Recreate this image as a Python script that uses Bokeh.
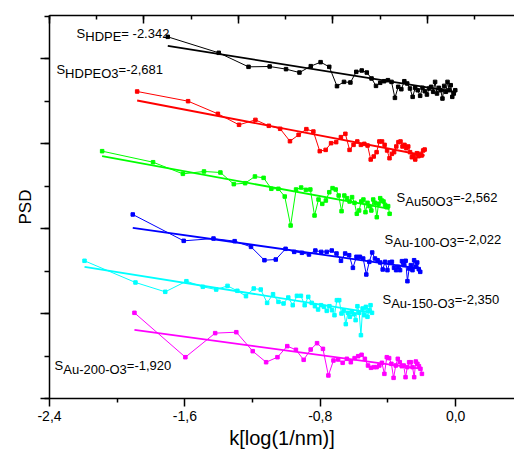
import numpy as np
from bokeh.plotting import figure
from bokeh.models import (Range1d, LinearAxis, SingleIntervalTicker, FixedTicker,
                          CustomJSTickFormatter, Label, ColumnDataSource)
from bokeh.embed import file_html
from bokeh.resources import INLINE

# ---------------- data ----------------
freq_index = list(range(1, 51))          # spatial-frequency index n ; k = k_start + log10(n)
series_colors = ["#000000", "#FF0000", "#00FF00", "#0000FF", "#00FFFF", "#FF00FF"]
k_start = [-1.701, -1.882, -2.089, -1.908, -2.193, -1.898]

psd_hdpe = [4.255, 4.067, 3.902, 3.906, 3.875, 3.835, 3.910, 3.957, 3.902, 3.675,
            3.725, 3.718, 3.843, 3.859, 3.835, 3.765, 3.678, 3.714, 3.733, 3.745,
            3.725, 3.537, 3.667, 3.639, 3.733, 3.706, 3.647, 3.549, 3.655, 3.627,
            3.561, 3.655, 3.616, 3.576, 3.647, 3.667, 3.608, 3.725, 3.588, 3.655,
            3.627, 3.529, 3.678, 3.608, 3.725, 3.627, 3.686, 3.549, 3.588, 3.627]
psd_hdpeo3 = [3.612, 3.498, 3.349, 3.220, 3.278, 3.208, 3.173, 3.027, 3.102, 3.169,
              3.141, 2.910, 2.925, 3.004, 3.016, 3.075, 3.114, 2.925, 2.984, 3.024,
              2.984, 2.996, 2.976, 2.812, 2.847, 2.898, 3.024, 3.024, 2.984, 2.918,
              2.827, 2.878, 2.898, 2.965, 3.016, 3.024, 2.965, 2.984, 2.945, 2.965,
              2.898, 2.839, 2.859, 2.812, 2.886, 2.851, 2.878, 2.859, 2.918, 2.929]
psd_au50 = [2.910, 2.780, 2.643, 2.671, 2.659, 2.522, 2.533, 2.612, 2.596, 2.467,
            2.467, 2.376, 2.035, 2.459, 2.482, 2.455, 2.459, 2.153, 2.341, 2.290,
            2.329, 2.427, 2.475, 2.459, 2.388, 2.204, 2.388, 2.357, 2.318, 2.369,
            2.302, 2.173, 2.212, 2.318, 2.341, 2.192, 2.302, 2.263, 2.212, 2.341,
            2.302, 2.133, 2.290, 2.357, 2.329, 2.318, 2.278, 2.251, 2.263, 2.173]
psd_au100 = [2.165, 1.855, 1.882, 1.851, 1.784, 1.627, 1.635, 1.761, 1.725, 1.714,
             1.694, 1.741, 1.725, 1.725, 1.741, 1.706, 1.620, 1.706, 1.686, 1.537,
             1.667, 1.667, 1.647, 1.459, 1.608, 1.718, 1.647, 1.627, 1.600, 1.518,
             1.608, 1.510, 1.600, 1.608, 1.537, 1.510, 1.549, 1.510, 1.616, 1.569,
             1.620, 1.380, 1.529, 1.569, 1.510, 1.627, 1.549, 1.600, 1.522, 1.490]
psd_au150 = [1.620, 1.365, 1.255, 1.380, 1.314, 1.282, 1.325, 1.267, 1.204, 1.294,
             1.282, 1.125, 1.227, 1.137, 1.118, 1.188, 1.098, 1.208, 1.208, 1.098,
             1.196, 1.125, 1.086, 1.047, 1.098, 1.078, 1.031, 1.086, 1.039, 0.980,
             1.157, 1.157, 1.000, 1.031, 0.875, 1.008, 0.961, 1.020, 0.992, 0.922,
             1.086, 1.008, 0.745, 1.059, 0.980, 1.078, 0.961, 1.039, 1.098, 1.008]
psd_au200 = [1.008, 0.486, 0.769, 0.780, 0.557, 0.427, 0.486, 0.616, 0.573, 0.455,
             0.576, 0.651, 0.584, 0.271, 0.447, 0.459, 0.420, 0.467, 0.427, 0.475,
             0.498, 0.514, 0.467, 0.388, 0.361, 0.369, 0.369, 0.388, 0.420, 0.290,
             0.486, 0.475, 0.408, 0.243, 0.388, 0.467, 0.427, 0.380, 0.388, 0.251,
             0.369, 0.427, 0.427, 0.369, 0.251, 0.435, 0.408, 0.380, 0.349, 0.290]
psd_series = [psd_hdpe, psd_hdpeo3, psd_au50, psd_au100, psd_au150, psd_au200]

# linear fits: value at first and last k of each series
fit_start = [4.149, 3.506, 2.851, 2.008, 1.549, 0.808]
fit_end = [3.608, 2.859, 2.231, 1.529, 1.008, 0.349]

# annotation texts: (main, subscript, value)
slope_texts = [("S", "HDPE", "= -2.342"),
               ("S", "HDPEO3", "=-2,681"),
               ("S", "Au50O3", "=-2,562"),
               ("S", "Au-100-O3", "=-2,022"),
               ("S", "Au-150-O3", "=-2,350"),
               ("S", "Au-200-O3", "=-1,920")]
slope_pos = [(-2.240, 4.298), (-2.359, 3.867), (-0.349, 2.361),
             (-0.420, 1.871), (-0.432, 1.161), (-2.370, 0.388)]

x_ticks = [-2.4, -1.6, -0.8, 0.0]
x_minor = [-2.0, -1.2, -0.4, 0.4]

# ---------------- figure ----------------
FONT = "Liberation Sans"
p = figure(width=514, height=454, output_backend="svg", toolbar_location=None,
           x_range=Range1d(-2.4, 0.348), y_range=Range1d(0, 4.506),
           min_border_left=49, min_border_right=0, min_border_top=15, min_border_bottom=56,
           x_axis_location=None, y_axis_location=None)
p.outline_line_color = None
p.background_fill_color = "white"
p.border_fill_color = "white"
p.xgrid.visible = False
p.ygrid.visible = False

n = np.array(freq_index, dtype=float)
for ks, ys, col, f0, f1 in zip(k_start, psd_series, series_colors, fit_start, fit_end):
    xs = ks + np.log10(n)
    src = ColumnDataSource(dict(x=xs, y=ys))
    p.line("x", "y", source=src, line_color=col, line_width=1)
    p.scatter("x", "y", source=src, marker="square", size=3.5, fill_color=col, line_color=col)
    p.line([xs[0], xs[-1]], [f0, f1], line_color=col, line_width=1.8)

# axes
blank = CustomJSTickFormatter(code="return '';")
bottom = LinearAxis(ticker=FixedTicker(ticks=x_ticks, minor_ticks=x_minor),
                    formatter=CustomJSTickFormatter(code="""
                        var v = Math.abs(tick) < 1e-9 ? 0 : tick;
                        return v.toFixed(1).replace('.', ',');"""),
                    axis_label="k[log(1/nm)]")
left = LinearAxis(ticker=SingleIntervalTicker(interval=1, num_minor_ticks=2),
                  formatter=blank, axis_label="PSD")
p.extra_x_ranges = {"top": Range1d(0, 4.921)}
top = LinearAxis(x_range_name="top", ticker=SingleIntervalTicker(interval=1, num_minor_ticks=2),
                 formatter=CustomJSTickFormatter(code="return '';"))

for ax in (bottom, left, top):
    ax.axis_line_width = 1.5
    ax.major_tick_line_width = 1.5
    ax.minor_tick_line_width = 1.5
    ax.axis_line_color = "black"
    ax.major_tick_line_color = "black"
    ax.minor_tick_line_color = "black"
    ax.major_label_text_font = FONT
    ax.axis_label_text_font = FONT
    ax.axis_label_text_font_style = "normal"
    ax.axis_label_text_color = "black"
    ax.major_label_text_color = "black"

bottom.major_tick_in = 0
bottom.major_tick_out = 8
bottom.minor_tick_in = 0
bottom.minor_tick_out = 4
bottom.major_label_text_font_size = "14px"
bottom.major_label_standoff = 4
bottom.axis_label_text_font_size = "20px"
bottom.axis_label_standoff = 3

left.major_tick_in = 0
left.major_tick_out = 9
left.minor_tick_in = 0
left.minor_tick_out = 5
left.major_label_text_font_size = "1px"
left.major_label_standoff = 0
left.axis_label_text_font_size = "17px"
left.axis_label_standoff = 6

top.major_tick_in = 8
top.major_tick_out = 0
top.minor_tick_in = 4
top.minor_tick_out = 0
top.major_label_text_font_size = "1px"
top.major_label_standoff = 0

p.add_layout(bottom, "below")
p.add_layout(left, "left")
p.add_layout(top, "above")

# slope annotations with subscripts
arial_w = {"S": .667, "H": .722, "D": .722, "P": .667, "E": .667, "O": .778, "A": .667,
           "u": .556, "-": .333, "0": .556, "1": .556, "2": .556, "3": .556, "4": .556,
           "5": .556, "6": .556, "7": .556, "8": .556, "9": .556}
FS = 13
for (main, sub, val), (lx, ly) in zip(slope_texts, slope_pos):
    w_main = sum(arial_w.get(c, .556) for c in main) * FS
    w_sub = sum(arial_w.get(c, .556) for c in sub) * FS
    common = dict(text_font=FONT, text_font_size=f"{FS}px", text_color="black",
                  text_baseline="alphabetic", text_align="left")
    p.add_layout(Label(x=lx, y=ly, text=main, **common))
    p.add_layout(Label(x=lx, y=ly - 3.5 / 85, x_offset=w_main, text=sub, **common))
    p.add_layout(Label(x=lx, y=ly, x_offset=w_main + w_sub, text=val, **common))

open("out.html", "w").write(file_html(p, INLINE))
